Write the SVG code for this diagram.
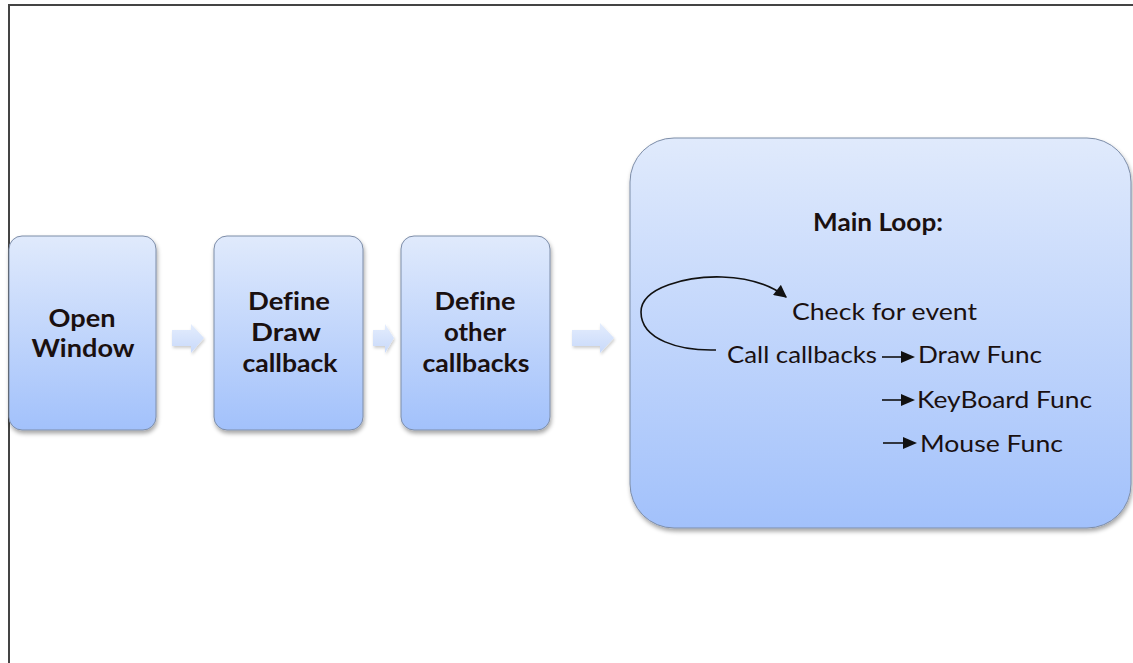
<svg xmlns="http://www.w3.org/2000/svg" width="1133" height="663" viewBox="0 0 1133 663">
  <style>
    .box { fill: url(#boxFill); stroke: #7d8da8; stroke-width: 1; filter: url(#shadow); }
    .step { fill: url(#stepFill); filter: url(#softShadow); }
    text { font-variant-ligatures: none; }
    .title { font-family: Lato, "Open Sans", "Liberation Sans", sans-serif; font-weight: bold; font-size: 24px; fill: #1a1010; text-anchor: middle; }
    .item { font-family: Lato, "Open Sans", "Liberation Sans", sans-serif; font-size: 23px; fill: #1a1010; }
    .link { fill: none; stroke: #111; stroke-width: 1.6; }
    .tip { fill: #111; }
    .frame { fill: none; stroke: #444; stroke-width: 2; }
  </style>
  <defs>
    <linearGradient id="boxFill" x1="0" y1="0" x2="0" y2="1">
      <stop offset="0" stop-color="#e0eafc"/>
      <stop offset="1" stop-color="#a2c1fb"/>
    </linearGradient>
    <linearGradient id="stepFill" x1="0" y1="0" x2="0" y2="1">
      <stop offset="0" stop-color="#e4edfd"/>
      <stop offset="1" stop-color="#c8d9fa"/>
    </linearGradient>
    <filter id="shadow" x="-10%" y="-10%" width="125%" height="125%">
      <feDropShadow dx="1" dy="3" stdDeviation="2" flood-color="#000" flood-opacity="0.35"/>
    </filter>
    <filter id="softShadow" x="-20%" y="-20%" width="150%" height="150%">
      <feDropShadow dx="1" dy="2" stdDeviation="1.5" flood-color="#000" flood-opacity="0.2"/>
    </filter>
    <marker id="loopHead" viewBox="0 0 10 10" refX="9" refY="5" markerWidth="9" markerHeight="8" orient="auto" markerUnits="strokeWidth">
      <path d="M0,0 L10,5 L0,10 z" fill="#111"/>
    </marker>
  </defs>

  <rect width="1133" height="663" fill="#fff"/>
  <!-- page frame: top and left edges -->
  <path class="frame" d="M9,663 V5 H1133"/>

  <!-- block arrows between the steps -->
  <g id="flow">
    <path class="step" d="M172,330 H191 V324 L204,338 L191,353 V346 H172 z"/>
    <path class="step" d="M373,330 H385 V324 L394,338 L385,353 V346 H373 z"/>
    <path class="step" d="M572,330 H600 V323 L614,338 L600,353 V346 H572 z"/>
  </g>

  <g id="open-window">
    <rect class="box" x="9" y="236" width="147" height="194" rx="13"/>
    <text class="title" x="82" y="327" textLength="67" lengthAdjust="spacingAndGlyphs">Open</text>
    <text class="title" x="83" y="357" textLength="103" lengthAdjust="spacingAndGlyphs">Window</text>
  </g>

  <g id="define-draw">
    <rect class="box" x="214" y="236" width="149" height="194" rx="13"/>
    <text class="title" x="289" y="310" textLength="82" lengthAdjust="spacingAndGlyphs">Define</text>
    <text class="title" x="286" y="341" textLength="70" lengthAdjust="spacingAndGlyphs">Draw</text>
    <text class="title" x="290" y="372" textLength="95" lengthAdjust="spacingAndGlyphs">callback</text>
  </g>

  <g id="define-other">
    <rect class="box" x="401" y="236" width="149" height="194" rx="13"/>
    <text class="title" x="475" y="310" textLength="81" lengthAdjust="spacingAndGlyphs">Define</text>
    <text class="title" x="475" y="341" textLength="62" lengthAdjust="spacingAndGlyphs">other</text>
    <text class="title" x="476" y="372" textLength="107" lengthAdjust="spacingAndGlyphs">callbacks</text>
  </g>

  <g id="main-loop">
    <rect class="box" x="630" y="138" width="501" height="390" rx="44"/>
    <text class="title" x="878" y="231" textLength="130" lengthAdjust="spacingAndGlyphs">Main Loop:</text>
    <text class="item" x="792" y="320" textLength="185" lengthAdjust="spacingAndGlyphs">Check for event</text>
    <text class="item" x="727" y="363" textLength="150" lengthAdjust="spacingAndGlyphs">Call callbacks</text>
    <text class="item" x="918" y="363" textLength="124" lengthAdjust="spacingAndGlyphs">Draw Func</text>
    <text class="item" x="917" y="408" textLength="175" lengthAdjust="spacingAndGlyphs">KeyBoard Func</text>
    <text class="item" x="920" y="452" textLength="143" lengthAdjust="spacingAndGlyphs">Mouse Func</text>
  </g>

  <g id="connectors">
    <path class="link" d="M716,350 C680,351 641,340 641,312 C641,287 688,276 722,277 C752,278 772,286 786,297" marker-end="url(#loopHead)"/>
    <path class="link" d="M882,357 H903"/>
    <polygon class="tip" points="901,351 915,357 901,363"/>
    <path class="link" d="M882,400 H903"/>
    <polygon class="tip" points="901,394 915,400 901,406"/>
    <path class="link" d="M883,443 H905"/>
    <polygon class="tip" points="903,437 917,443 903,449"/>
  </g>
</svg>
